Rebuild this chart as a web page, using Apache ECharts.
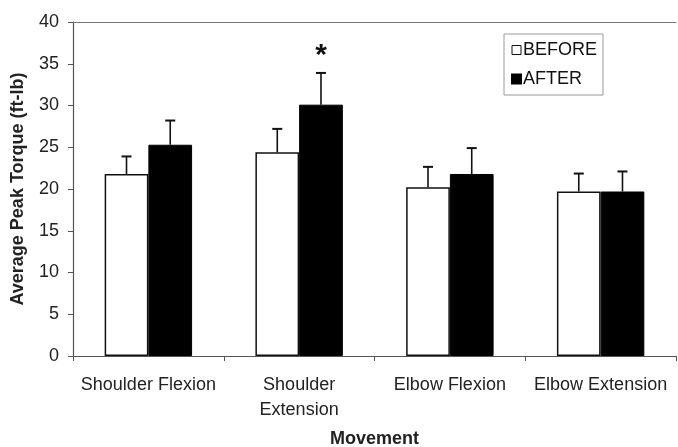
<!DOCTYPE html>
<html><head><meta charset="utf-8">
<script src="https://cdn.jsdelivr.net/npm/echarts@6/dist/echarts.min.js"></script>
<style>html,body{margin:0;padding:0;background:#fff}#c{width:678px;height:447px}</style>
</head><body><div id="c"></div>
<script>
const categories = ['Shoulder Flexion', 'Shoulder\nExtension', 'Elbow Flexion', 'Elbow Extension'];
const beforeValues = [21.8, 24.4, 20.2, 19.7];
const afterValues = [25.3, 30.1, 21.8, 19.7];
const beforeErr = [2.1, 2.8, 2.45, 2.15];
const afterErr = [2.9, 3.8, 3.1, 2.4];
const significance = ['', '*', '', ''];
const yTicks = [0, 5, 10, 15, 20, 25, 30, 35, 40];

const FONT = 'Liberation Sans, Arial, sans-serif';
const chart = echarts.init(document.getElementById('c'));

function errSeries(name, values, errs, side, marks) {
  return {
    type: 'custom', name: name + ' err', z: 5, silent: true,
    data: values.map((v, i) => [i, v, errs[i]]),
    renderItem: function (params, api) {
      const i = api.value(0), v = api.value(1), e = api.value(2);
      const bw = api.size([1, 0])[0];
      const off = side * bw * 0.145;
      const p0 = api.coord([i, v]);
      const p1 = api.coord([i, v + e]);
      const x = p0[0] + off;
      const cap = 5;
      const children = [
        { type: 'line', shape: { x1: x, y1: p0[1], x2: x, y2: p1[1] }, style: { stroke: '#111', lineWidth: 1.6 } },
        { type: 'line', shape: { x1: x - cap, y1: p1[1], x2: x + cap, y2: p1[1] }, style: { stroke: '#111', lineWidth: 2 } }
      ];
      const m = marks ? marks[params.dataIndex] : '';
      if (m) {
        children.push({ type: 'text', style: { text: m, x: x, y: p1[1] - 2, align: 'center', verticalAlign: 'bottom', font: 'bold 30px ' + FONT, fill: '#111' } });
      }
      return { type: 'group', children: children };
    }
  };
}

chart.setOption({
  animation: false,
  backgroundColor: '#fff',
  textStyle: { fontFamily: FONT },
  grid: { left: 73, right: 2, top: 22, bottom: 91, containLabel: false, outerBoundsMode: 'none' },
  legend: {
    left: 504, top: 34, width: 107, height: 62, orient: 'vertical',
    padding: [7, 6, 7, 7], itemGap: 11,
    borderColor: '#999', borderWidth: 1,
    icon: 'rect', itemWidth: 9, itemHeight: 9,
    textStyle: { fontSize: 18, color: '#111', fontFamily: FONT, padding: [0, 0, 0, -3] },
    data: [
      { name: 'BEFORE', itemStyle: { color: '#fff', borderColor: '#111', borderWidth: 1 } },
      { name: 'AFTER', itemStyle: { color: '#000' } }
    ]
  },
  xAxis: [{
    type: 'category', data: categories,
    axisLine: { lineStyle: { color: '#555', width: 1.2 } },
    axisTick: { show: true, length: 5, lineStyle: { color: '#555' } },
    axisLabel: { interval: 0, fontSize: 18, color: '#222', margin: 17, lineHeight: 25, fontFamily: FONT },
    name: 'Movement', nameLocation: 'middle', nameGap: 74,
    nameTextStyle: { fontSize: 18, fontWeight: 'bold', color: '#222', fontFamily: FONT }
  }, {
    type: 'category', position: 'top', data: categories,
    axisLine: { show: true, lineStyle: { color: '#777', width: 1.2 } },
    axisTick: { show: false }, axisLabel: { show: false }
  }],
  yAxis: {
    type: 'value', min: 0, max: 40, interval: 5,
    axisLine: { show: true, lineStyle: { color: '#555', width: 1.2 } },
    axisTick: { show: true, length: 5, lineStyle: { color: '#555' } },
    splitLine: { show: false },
    axisLabel: { fontSize: 18, color: '#222', margin: 14, fontFamily: FONT,
      formatter: v => yTicks.includes(v) ? String(v) : '' },
    name: 'Average Peak Torque (ft-lb)', nameLocation: 'middle', nameGap: 46, nameRotate: 90,
    nameTextStyle: { fontSize: 18, fontWeight: 'bold', color: '#222', fontFamily: FONT }
  },
  series: [
    { type: 'bar', name: 'BEFORE', data: beforeValues, barGap: '0%', barCategoryGap: '42%',
      itemStyle: { color: '#fff', borderColor: '#111', borderWidth: 1.5 } },
    { type: 'bar', name: 'AFTER', data: afterValues,
      itemStyle: { color: '#000', borderColor: '#000', borderWidth: 1 } },
    errSeries('BEFORE', beforeValues, beforeErr, -1, null),
    errSeries('AFTER', afterValues, afterErr, 1, significance)
  ]
});
</script></body></html>
